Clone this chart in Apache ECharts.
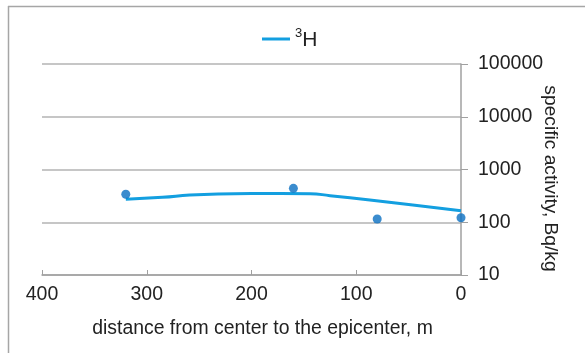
<!DOCTYPE html>
<html>
<head>
<meta charset="utf-8">
<script src="https://cdn.jsdelivr.net/npm/echarts@6/dist/echarts.min.js"></script>
<style>
  html, body { margin: 0; padding: 0; background: #fff; }
  #chart { width: 585px; height: 353px; }
</style>
</head>
<body>
<div id="chart"></div>
<script>
// measured points (distance, Bq/kg)
let pointDist = [320, 160, 80, 0];
let pointAct = [339, 440, 115, 122];

// trend line
let trendDist = [320, 285, 259, 232, 200, 144, 125, 87, 46, 0];
let trendAct = [272, 297, 328, 345, 350, 348, 319, 264, 212, 166];

let yTicks = [10, 100, 1000, 10000, 100000];

var h3Chart = echarts.init(document.getElementById('chart'));

let scatterData = pointDist.map(function (d, i) { return [d, pointAct[i]]; });
let trendData = trendDist.map(function (d, i) { return [d, trendAct[i]]; });

let font = 'Liberation Sans, Arial, sans-serif';

option = {
    animation: false,
    textStyle: { fontFamily: font },
    grid: {
        left: 42,
        right: 124,
        top: 64,
        bottom: 78,
        containLabel: false
    },
    // chart frame (top and left edges only are visible)
    graphic: [
        { type: 'line', shape: { x1: 8, y1: 6.5, x2: 585, y2: 6.5 }, style: { stroke: '#a6a6a6', lineWidth: 1.5 } },
        { type: 'line', shape: { x1: 8.5, y1: 6, x2: 8.5, y2: 353 }, style: { stroke: '#a6a6a6', lineWidth: 1.5 } }
    ],
    legend: {
        data: ['H3'],
        left: 257,
        top: 22,
        icon: 'rect',
        itemWidth: 28,
        itemHeight: 3,
        itemGap: 8,
        formatter: function () { return '{s|3}{h|H}'; },
        textStyle: {
            rich: {
                s: { fontSize: 13, color: '#222', verticalAlign: 'top', lineHeight: 24, fontFamily: font },
                h: { fontSize: 21, color: '#222', verticalAlign: 'bottom', lineHeight: 24, fontFamily: font }
            }
        }
    },
    xAxis: {
        type: 'value',
        min: 0,
        max: 400,
        interval: 100,
        inverse: true,
        name: 'distance from center to the epicenter, m',
        nameLocation: 'middle',
        nameGap: 44,
        nameTextStyle: { fontSize: 19.4, color: '#222', padding: [0, 0, 0, 22] },
        axisLine: { lineStyle: { color: '#a0a0a0', width: 1.5 } },
        axisTick: { show: true, inside: true, length: 5, lineStyle: { color: '#a0a0a0' } },
        axisLabel: { fontSize: 19.5, color: '#222', margin: 10 },
        splitLine: { show: false }
    },
    yAxis: {
        type: 'log',
        logBase: 10,
        min: 10,
        max: 100000,
        position: 'right',
        name: 'specific activity, Bq/kg',
        nameLocation: 'middle',
        nameRotate: -90,
        nameGap: 80,
        nameMoveOverlap: false,
        nameTextStyle: { fontSize: 19.2, color: '#222', padding: [0, 0, 0, 18] },
        axisLine: { show: true, lineStyle: { color: '#a0a0a0', width: 1.5 } },
        axisTick: { show: true, length: 7, lineStyle: { color: '#a0a0a0' } },
        axisLabel: {
            fontSize: 19.5,
            color: '#222',
            margin: 17,
            formatter: function (v) {
                return yTicks.indexOf(Math.round(v)) >= 0 ? String(Math.round(v)) : '';
            }
        },
        splitLine: { show: true, lineStyle: { color: '#b3b3b3', width: 1.5 } }
    },
    series: [
        {
            name: 'H3',
            type: 'line',
            data: trendData,
            smooth: true,
            showSymbol: false,
            symbol: 'none',
            lineStyle: { color: '#139fe0', width: 3 },
            itemStyle: { color: '#139fe0' },
            z: 2
        },
        {
            name: 'points',
            type: 'scatter',
            data: scatterData,
            symbol: 'circle',
            symbolSize: 9,
            itemStyle: { color: '#0a6fc2' },
            z: 3
        }
    ]
};

h3Chart.setOption(option);
</script>
</body>
</html>
